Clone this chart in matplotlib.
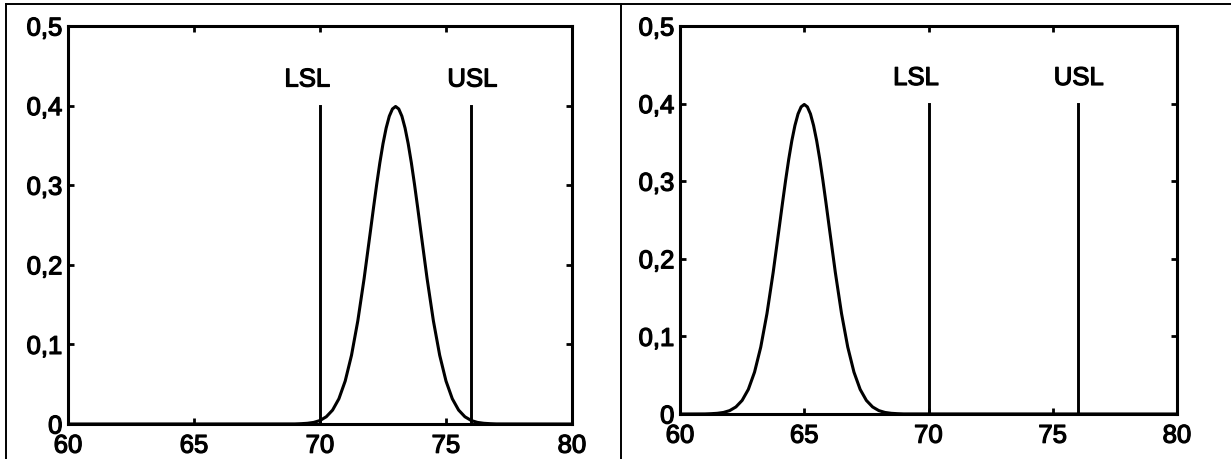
import matplotlib
matplotlib.use("Agg")
import matplotlib.pyplot as plt
from matplotlib.lines import Line2D
import matplotlib.patheffects as pe

plt.rcParams['font.family'] = ['Liberation Sans', 'DejaVu Sans']

# ---- data ----
x_ticks = [60, 65, 70, 75, 80]
x_ticklabels = ['60', '65', '70', '75', '80']
y_ticks = [0, 0.1, 0.2, 0.3, 0.4, 0.5]
y_ticklabels = ['0', '0,1', '0,2', '0,3', '0,4', '0,5']

lsl = 70
usl = 76
limit_top = 0.4
limit_labels = ['LSL', 'USL']

# left panel curve (process centred at 73)
curve1_x = [60, 69, 69.25, 69.5, 69.75, 70, 70.25, 70.5, 70.75, 71, 71.25, 71.5, 71.75,
            72, 72.125, 72.25, 72.375, 72.5, 72.625, 72.75, 72.875, 73,
            73.125, 73.25, 73.375, 73.5, 73.625, 73.75, 73.875, 74, 74.25, 74.5, 74.75,
            75, 75.25, 75.5, 75.75, 76, 76.25, 76.5, 76.75, 77, 80]
# right panel curve (process centred at 65)
curve2_x = [60, 61, 61.25, 61.5, 61.75, 62, 62.25, 62.5, 62.75, 63, 63.25, 63.5, 63.75,
            64, 64.125, 64.25, 64.375, 64.5, 64.625, 64.75, 64.875, 65,
            65.125, 65.25, 65.375, 65.5, 65.625, 65.75, 65.875, 66, 66.25, 66.5, 66.75,
            67, 67.25, 67.5, 67.75, 68, 68.25, 68.5, 68.75, 69, 80]
curve_y = [0, 0.0001, 0.0004, 0.0009, 0.0020, 0.0044, 0.0091, 0.0175, 0.0317, 0.0540,
           0.0863, 0.1295, 0.1826, 0.2420, 0.2720, 0.3011, 0.3282, 0.3521, 0.3718,
           0.3867, 0.3958, 0.3989, 0.3958, 0.3867, 0.3718, 0.3521, 0.3282, 0.3011,
           0.2720, 0.2420, 0.1826, 0.1295, 0.0863, 0.0540, 0.0317, 0.0175,
           0.0091, 0.0044, 0.0020, 0.0009, 0.0004, 0.0001, 0]

W, H = 1231, 460
fig = plt.figure(figsize=(W / 100, H / 100), dpi=100)

panels = [
    (curve1_x, curve_y, [68 / W, (H - 425) / H, 504 / W, 398 / H]),
    (curve2_x, curve_y, [680 / W, (H - 415) / H, 497 / W, 388 / H]),
]

FS = 18.5
thick = [pe.withStroke(linewidth=0.9, foreground='black')]
for cx, cy, rect in panels:
    ax = fig.add_axes(rect)
    ax.plot(cx, cy, color='black', lw=2.2, solid_joinstyle='round')
    for v in (lsl, usl):
        ax.plot([v, v], [0, limit_top], color='black', lw=2.1)
    ax.text(69.5, 0.424, limit_labels[0], ha='center', va='baseline', fontsize=FS,
            path_effects=thick)
    ax.text(76.05, 0.424, limit_labels[1], ha='center', va='baseline', fontsize=FS,
            path_effects=thick)
    ax.set_xlim(60, 80)
    ax.set_ylim(0, 0.5)
    ax.set_xticks(x_ticks)
    ax.set_xticklabels(x_ticklabels)
    ax.set_yticks(y_ticks)
    ax.set_yticklabels(y_ticklabels)
    ax.tick_params(direction='in', length=4, width=2, labelsize=FS,
                   top=True, right=True, pad=4)
    ax.tick_params(axis='x', pad=7)
    for lab in ax.get_xticklabels() + ax.get_yticklabels():
        lab.set_path_effects(thick)
    for s in ax.spines.values():
        s.set_linewidth(2.2)

# table-like frame
lw_frame = 1.4
fig.add_artist(Line2D([6 / W, 6 / W], [0, 1 - 5 / H], color='black', lw=lw_frame))
fig.add_artist(Line2D([6 / W, 1], [1 - 5 / H, 1 - 5 / H], color='black', lw=lw_frame))
fig.add_artist(Line2D([621 / W, 621 / W], [0, 1 - 5 / H], color='black', lw=lw_frame))

fig.savefig('out.png', dpi=100)
